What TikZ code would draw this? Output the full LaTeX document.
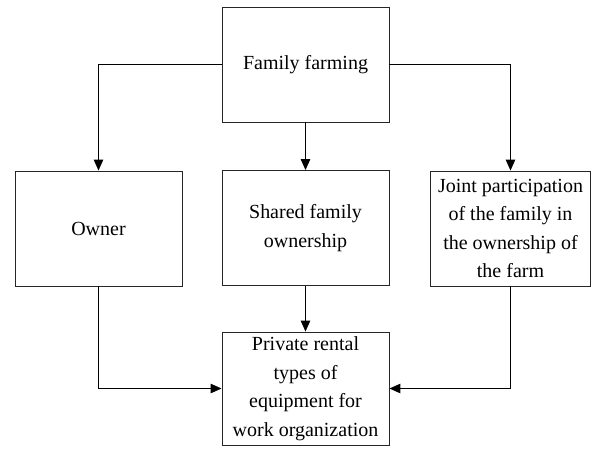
\documentclass[tikz,border=0pt]{standalone}
\usepackage{fontspec}
\setmainfont{Liberation Serif}
\usetikzlibrary{arrows.meta}
\begin{document}
\begin{tikzpicture}[x=1pt,y=-1pt,
  box/.style={draw=black!85,line width=0.9pt,fill=white,inner sep=0pt,
    minimum width=#1,minimum height=115pt,align=center,
    font=\fontsize{20}{28.5}\selectfont},
  box/.default=167pt,
  conn/.style={line width=1.1pt,-{Triangle[length=11pt,width=9.5pt]}}]
\useasboundingbox (0,0) rectangle (592,448);
\node[box] (top) at (305.5,64.5) {Family farming};
\node[box] (owner) at (98.5,228.5) {Owner};
\node[box] (mid) at (305.5,228) {Shared family\\ownership};
\node[box=160pt] (right) at (510.5,228.5) {Joint participation\\of the family in\\the ownership of\\the farm};
\node[box,minimum height=113pt] (bot) at (305.5,388.5) {Private rental\\types of\\equipment for\\work organization};
\draw[conn] (top.west) -| (owner.north);
\draw[conn] (top.east) -| (right.north);
\draw[conn] (top.south) -- (mid.north);
\draw[conn] (mid.south) -- (bot.north);
\draw[conn] (owner.south) |- (bot.west);
\draw[conn] (right.south) |- (bot.east);
\end{tikzpicture}
\end{document}
